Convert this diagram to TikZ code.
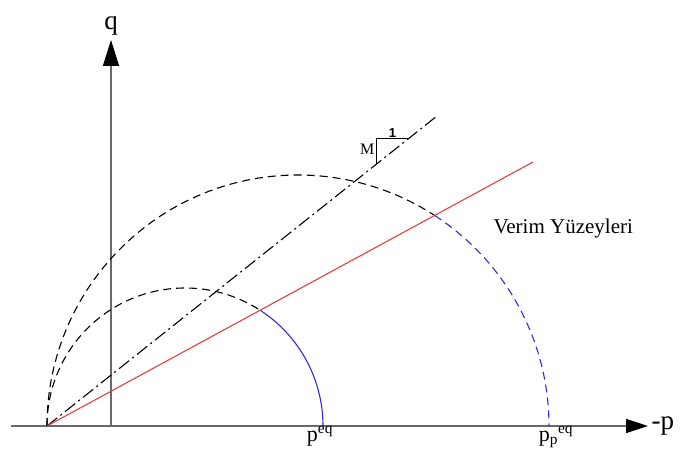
\documentclass[tikz,border=0pt]{standalone}
\usepackage{fontspec}
\setmainfont{Liberation Serif}
\newfontfamily\arialfont{Liberation Sans}
\usetikzlibrary{positioning}
\usetikzlibrary{calc}
\usetikzlibrary{arrows.meta}
\definecolor{axisgray}{RGB}{105,105,105}
\definecolor{csred}{RGB}{232,62,62}
\definecolor{yblue}{RGB}{45,45,215}

\begin{document}
\begin{tikzpicture}[x=1pt, y=1pt,
    axis/.style={draw=axisgray, line width=1.5pt},
    ysurf/.style={dash pattern=on 8pt off 5pt, line width=1.1pt},
    mline/.style={dash pattern=on 13pt off 4pt on 2pt off 4pt, line width=1.1pt},
    big/.style={font=\fontsize{27}{30}\selectfont},
    lab/.style={font=\fontsize{22}{26}\selectfont}]

    \useasboundingbox (-47,-27) rectangle (636,426);

    \coordinate (o) at (0,0);
    \coordinate (xl) at (-36,0);
    \coordinate (xr) at (601,0);
    \coordinate (yb) at (64,0);
    \coordinate (yt) at (64,386);
    \coordinate (me) at (390,310);
    \coordinate (cs) at (486,264);

    \draw[axis, -{Triangle[length=22pt,width=14pt,black]}] (xl) -- (xr);
    \draw[axis, -{Triangle[length=26pt,width=16pt,black]}] (yb) -- (yt);
    \node[big, right=0pt of xr] (pl) {-p};
    \node[big, above=1pt of yt] (ql) {q};

    \draw[ysurf] (o) arc[start angle=180, end angle=57, radius=138] coordinate (s1);
    \draw[draw=yblue, line width=1.1pt] (s1) arc[start angle=57, end angle=0, radius=138] coordinate (pe);
    \draw[ysurf] (o) arc[start angle=180, end angle=57, radius=251] coordinate (s2);
    \draw[ysurf, draw=yblue] (s2) arc[start angle=57, end angle=0, radius=251] coordinate (pp);

    \draw[mline] (o) -- (me);
    \draw[draw=csred, line width=1.1pt] (o) -- (cs);

    \coordinate (t1) at ($(o)!0.846!(me)$);
    \coordinate (t2) at ($(o)!0.926!(me)$);
    \coordinate (tc) at (t1 |- t2);
    \coordinate (tm) at ($(tc)!0.5!(t2)$);
    \draw[line width=1.1pt] (t1) -- (tc) -- (t2);
    \node[font=\fontsize{16}{18}\selectfont, below left=2pt and -1pt of tc] (ml) {M};
    \node[font=\arialfont\bfseries\fontsize{13}{15}\selectfont, above=-2pt of tm] (one) {1};

    \node[lab, below=-3pt of pe, xshift=-3pt] (pel) {p\textsuperscript{eq}};
    \node[lab, below=-3pt of pp, xshift=7pt] (ppl) {p\textsubscript{p}\textsuperscript{eq}};
    \node[font=\fontsize{21}{25}\selectfont, anchor=west] (vy) at (443,198) {Verim Yüzeyleri};
\end{tikzpicture}
\end{document}
